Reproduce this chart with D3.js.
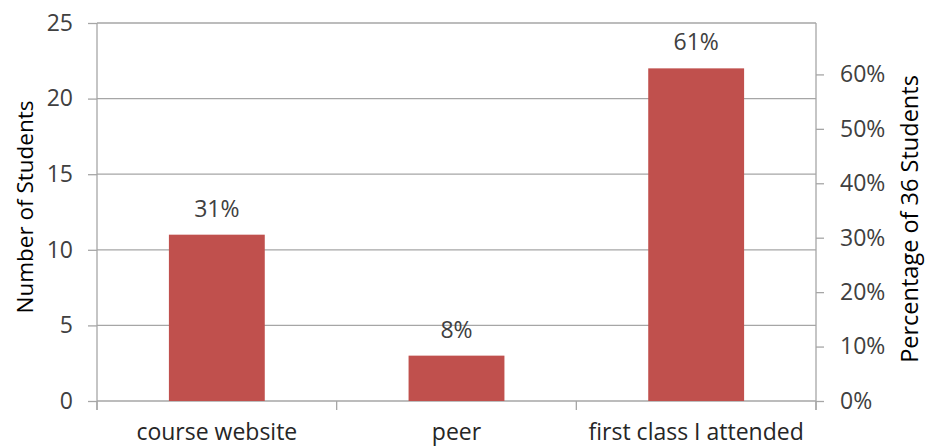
<!DOCTYPE html>
<html>
<head>
<meta charset="utf-8">
<script src="https://cdn.jsdelivr.net/npm/d3@7"></script>
<style>
  html, body { margin: 0; padding: 0; background: #fff; }
  svg { display: block; }
  text { font-family: "Open Sans", "Liberation Sans", Arial, sans-serif; }
</style>
</head>
<body>
<svg id="chart" width="926" height="448"></svg>
<script>
// How students first heard about the course
const categories = ["course website", "peer", "first class I attended"];
const studentCounts = [11, 3, 22];
const totalStudents = 36;
const countTicks = [0, 5, 10, 15, 20, 25];
const percentTicks = [0, 0.1, 0.2, 0.3, 0.4, 0.5, 0.6];

const svg = d3.select("#chart");
const plot = { left: 97, right: 816, top: 23, bottom: 401 };
const gridColor = "#a6a6a6";
const barColor = "#c0504d";
const labelColor = "#404040";
const fontFamily = '"Open Sans", "Liberation Sans", Arial, sans-serif';
const fontSize = 23;

const x = d3.scaleBand()
  .domain(categories)
  .range([plot.left, plot.right])
  .paddingInner(0.6)
  .paddingOuter(0.3);

const xBand = d3.scaleBand()
  .domain(categories)
  .range([plot.left, plot.right])
  .padding(0);

const y = d3.scaleLinear().domain([0, 25]).range([plot.bottom, plot.top]);
const y2 = d3.scaleLinear().domain([0, 25 / totalStudents]).range([plot.bottom, plot.top]);

// horizontal gridlines
svg.append("g")
  .selectAll("line")
  .data(countTicks)
  .join("line")
  .attr("x1", plot.left).attr("x2", plot.right)
  .attr("y1", d => y(d)).attr("y2", d => y(d))
  .attr("stroke", gridColor).attr("stroke-width", 1.3);

// left axis
const leftAxis = d3.axisLeft(y).tickValues(countTicks).tickSize(9).tickPadding(15);
const gL = svg.append("g").attr("transform", `translate(${plot.left},0)`).call(leftAxis);
gL.select(".domain").remove();
gL.append("line")
  .attr("x1", 0).attr("x2", 0)
  .attr("y1", plot.top).attr("y2", plot.bottom + 9)
  .attr("stroke", gridColor).attr("stroke-width", 1.3);
gL.selectAll(".tick line").attr("stroke", gridColor).attr("stroke-width", 1.3);
gL.selectAll(".tick text")
  .attr("font-size", fontSize).attr("fill", labelColor)
  .style("font-family", fontFamily);

// right axis (share of all students)
const rightAxis = d3.axisRight(y2).tickValues(percentTicks).tickFormat(d3.format(".0%")).tickSize(8).tickPadding(16);
const gR = svg.append("g").attr("transform", `translate(${plot.right},0)`).call(rightAxis);
gR.select(".domain").remove();
gR.append("line")
  .attr("x1", 0).attr("x2", 0)
  .attr("y1", plot.top).attr("y2", plot.bottom + 9)
  .attr("stroke", gridColor).attr("stroke-width", 1.3);
gR.selectAll(".tick line").attr("stroke", gridColor).attr("stroke-width", 1.3);
gR.selectAll(".tick text")
  .attr("font-size", fontSize).attr("fill", labelColor)
  .style("font-family", fontFamily);

// category separators below the baseline
const boundaries = categories.map(c => xBand(c)).concat([plot.right]);
svg.append("g")
  .selectAll("line")
  .data(boundaries)
  .join("line")
  .attr("x1", d => d).attr("x2", d => d)
  .attr("y1", plot.bottom).attr("y2", plot.bottom + 9)
  .attr("stroke", gridColor).attr("stroke-width", 1.3);

// bars
svg.append("g")
  .selectAll("rect")
  .data(categories)
  .join("rect")
  .attr("x", d => x(d))
  .attr("width", x.bandwidth())
  .attr("y", (d, i) => y(studentCounts[i]))
  .attr("height", (d, i) => y(0) - y(studentCounts[i]))
  .attr("fill", barColor);

// percentage labels above bars
svg.append("g")
  .selectAll("text")
  .data(categories)
  .join("text")
  .attr("x", d => x(d) + x.bandwidth() / 2)
  .attr("y", (d, i) => y(studentCounts[i]) - 18)
  .attr("text-anchor", "middle")
  .attr("font-size", fontSize)
  .attr("fill", labelColor)
  .text((d, i) => d3.format(".0%")(studentCounts[i] / totalStudents));

// category labels
svg.append("g")
  .selectAll("text")
  .data(categories)
  .join("text")
  .attr("x", d => xBand(d) + xBand.bandwidth() / 2)
  .attr("y", 440)
  .attr("text-anchor", "middle")
  .attr("font-size", 23)
  .attr("fill", "#262626")
  .text(d => d);

// axis titles
svg.append("text")
  .attr("transform", "translate(33,207) rotate(-90)")
  .attr("text-anchor", "middle")
  .attr("font-size", 22.5)
  .attr("fill", "#000")
  .text("Number of Students");

svg.append("text")
  .attr("transform", "translate(918,219) rotate(-90)")
  .attr("text-anchor", "middle")
  .attr("font-size", 23.5)
  .attr("fill", "#000")
  .text("Percentage of 36 Students");
</script>
</body>
</html>
